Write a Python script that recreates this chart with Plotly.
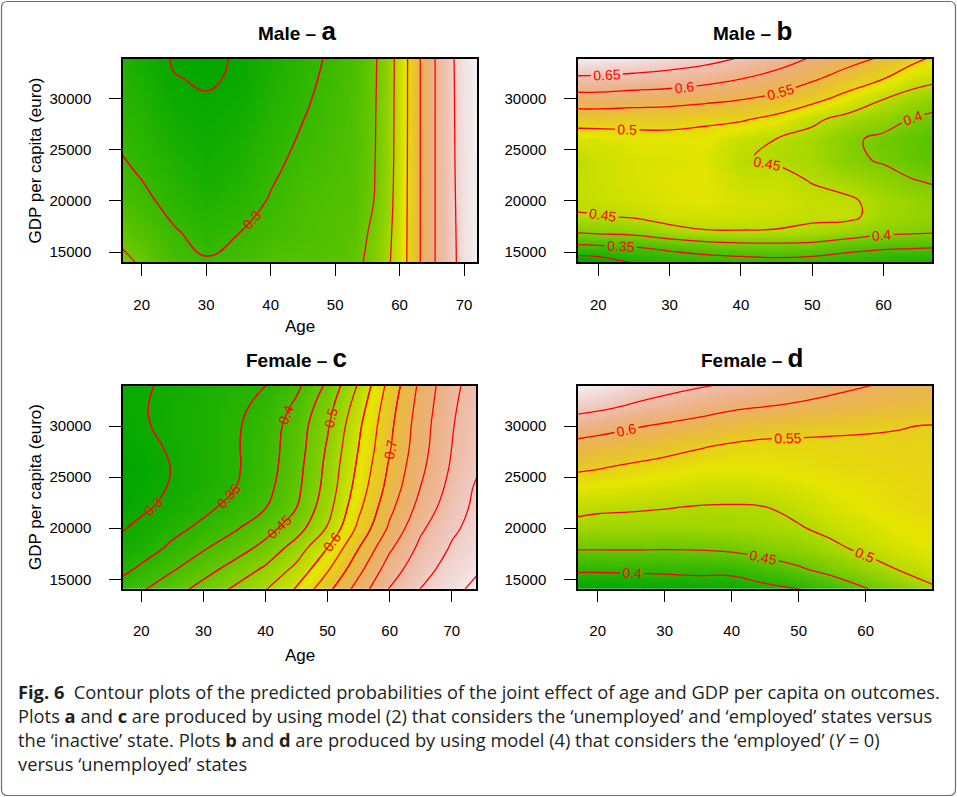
import colorsys
import numpy as np
import plotly.graph_objects as go

# ---------------- data (predicted probabilities) ----------------
# Panel a : Male, model (2)
age_a = [17, 20, 25, 30, 35, 40, 45, 50, 53, 56, 58, 60, 62, 64, 66, 68, 70, 72]
gdp_a = [14000, 17000, 20000, 23000, 26000, 29000, 32000, 34000]
prob_a = [
    [0.420, 0.390, 0.330, 0.305, 0.325, 0.350, 0.355, 0.360, 0.375, 0.430, 0.480, 0.550, 0.640, 0.740, 0.820, 0.880, 0.930, 0.955],
    [0.375, 0.350, 0.305, 0.280, 0.298, 0.325, 0.340, 0.355, 0.365, 0.415, 0.470, 0.547, 0.640, 0.740, 0.820, 0.882, 0.931, 0.956],
    [0.335, 0.315, 0.280, 0.255, 0.270, 0.305, 0.335, 0.350, 0.355, 0.400, 0.460, 0.543, 0.640, 0.740, 0.820, 0.884, 0.932, 0.957],
    [0.310, 0.293, 0.260, 0.235, 0.252, 0.290, 0.320, 0.340, 0.350, 0.395, 0.455, 0.540, 0.640, 0.740, 0.820, 0.886, 0.933, 0.958],
    [0.290, 0.275, 0.240, 0.220, 0.238, 0.276, 0.307, 0.332, 0.347, 0.392, 0.453, 0.538, 0.640, 0.740, 0.820, 0.887, 0.934, 0.959],
    [0.275, 0.260, 0.222, 0.207, 0.222, 0.262, 0.295, 0.325, 0.344, 0.390, 0.452, 0.537, 0.640, 0.740, 0.820, 0.888, 0.934, 0.959],
    [0.262, 0.245, 0.202, 0.195, 0.205, 0.250, 0.285, 0.317, 0.342, 0.387, 0.451, 0.536, 0.640, 0.740, 0.820, 0.889, 0.935, 0.960],
    [0.255, 0.235, 0.195, 0.187, 0.206, 0.243, 0.280, 0.312, 0.340, 0.385, 0.450, 0.535, 0.640, 0.740, 0.820, 0.890, 0.935, 0.960],
]

# Panel b : Male, model (4)
age_b = [17, 20, 25, 30, 35, 40, 45, 50, 55, 60, 64, 67]
gdp_b = [14000, 15500, 17000, 18500, 20000, 22000, 24000, 26000, 28000, 30000, 32000, 34000]
prob_b = [
    [0.270, 0.275, 0.305, 0.318, 0.325, 0.330, 0.335, 0.330, 0.320, 0.312, 0.308, 0.305],
    [0.340, 0.343, 0.350, 0.362, 0.375, 0.383, 0.385, 0.383, 0.368, 0.358, 0.355, 0.353],
    [0.405, 0.410, 0.415, 0.435, 0.447, 0.448, 0.447, 0.440, 0.428, 0.412, 0.408, 0.405],
    [0.447, 0.448, 0.455, 0.468, 0.470, 0.468, 0.465, 0.458, 0.460, 0.433, 0.425, 0.420],
    [0.458, 0.462, 0.470, 0.478, 0.482, 0.474, 0.470, 0.460, 0.457, 0.435, 0.425, 0.418],
    [0.458, 0.465, 0.475, 0.480, 0.483, 0.462, 0.462, 0.448, 0.432, 0.418, 0.402, 0.395],
    [0.455, 0.465, 0.475, 0.478, 0.480, 0.452, 0.446, 0.435, 0.410, 0.395, 0.380, 0.370],
    [0.475, 0.477, 0.482, 0.484, 0.485, 0.462, 0.449, 0.437, 0.408, 0.390, 0.375, 0.365],
    [0.520, 0.520, 0.519, 0.518, 0.508, 0.505, 0.488, 0.458, 0.437, 0.420, 0.398, 0.390],
    [0.580, 0.580, 0.574, 0.570, 0.563, 0.553, 0.538, 0.515, 0.483, 0.451, 0.433, 0.420],
    [0.643, 0.642, 0.637, 0.630, 0.618, 0.602, 0.583, 0.557, 0.530, 0.502, 0.470, 0.462],
    [0.700, 0.697, 0.690, 0.680, 0.668, 0.648, 0.625, 0.597, 0.568, 0.545, 0.515, 0.495],
]

# Panel c : Female, model (2)
age_c = [17, 20, 25, 30, 35, 40, 45, 50, 55, 60, 65, 70, 74]
gdp_c = [14000, 16000, 18000, 20000, 22000, 24000, 26000, 28000, 30000, 32000, 34000]
prob_c = [
    [0.374, 0.395, 0.430, 0.468, 0.508, 0.548, 0.605, 0.687, 0.772, 0.855, 0.902, 0.937, 0.962],
    [0.337, 0.359, 0.395, 0.431, 0.468, 0.508, 0.563, 0.644, 0.735, 0.825, 0.882, 0.919, 0.944],
    [0.310, 0.326, 0.361, 0.396, 0.428, 0.466, 0.524, 0.602, 0.700, 0.793, 0.863, 0.905, 0.925],
    [0.298, 0.311, 0.335, 0.362, 0.394, 0.431, 0.478, 0.554, 0.662, 0.759, 0.842, 0.892, 0.915],
    [0.283, 0.292, 0.314, 0.338, 0.367, 0.399, 0.450, 0.532, 0.639, 0.737, 0.818, 0.879, 0.910],
    [0.274, 0.283, 0.304, 0.326, 0.348, 0.385, 0.438, 0.519, 0.622, 0.719, 0.801, 0.866, 0.906],
    [0.270, 0.275, 0.302, 0.323, 0.343, 0.378, 0.432, 0.513, 0.610, 0.707, 0.789, 0.856, 0.893],
    [0.275, 0.285, 0.307, 0.326, 0.344, 0.377, 0.426, 0.505, 0.600, 0.696, 0.781, 0.850, 0.885],
    [0.285, 0.295, 0.311, 0.327, 0.343, 0.373, 0.423, 0.495, 0.591, 0.689, 0.777, 0.847, 0.880],
    [0.290, 0.297, 0.310, 0.325, 0.339, 0.362, 0.409, 0.481, 0.575, 0.680, 0.770, 0.843, 0.875],
    [0.290, 0.295, 0.307, 0.321, 0.335, 0.349, 0.389, 0.459, 0.555, 0.667, 0.762, 0.838, 0.870],
]

# Panel d : Female, model (4)
age_d = [17, 20, 25, 30, 35, 40, 45, 50, 55, 60, 65, 70]
gdp_d = [14000, 16000, 18000, 20000, 22000, 24000, 26000, 28000, 30000, 32000, 34000]
prob_d = [
    [0.365, 0.365, 0.367, 0.370, 0.374, 0.376, 0.388, 0.398, 0.420, 0.447, 0.470, 0.495],
    [0.407, 0.407, 0.408, 0.410, 0.412, 0.412, 0.428, 0.445, 0.465, 0.483, 0.502, 0.515],
    [0.453, 0.453, 0.453, 0.452, 0.453, 0.458, 0.468, 0.478, 0.492, 0.508, 0.520, 0.530],
    [0.490, 0.488, 0.488, 0.487, 0.487, 0.490, 0.493, 0.497, 0.510, 0.520, 0.530, 0.535],
    [0.508, 0.505, 0.503, 0.501, 0.498, 0.497, 0.499, 0.510, 0.522, 0.530, 0.537, 0.540],
    [0.530, 0.528, 0.524, 0.520, 0.516, 0.515, 0.518, 0.523, 0.530, 0.535, 0.540, 0.542],
    [0.557, 0.553, 0.545, 0.538, 0.532, 0.530, 0.532, 0.535, 0.539, 0.541, 0.543, 0.545],
    [0.585, 0.580, 0.572, 0.563, 0.553, 0.545, 0.541, 0.542, 0.543, 0.544, 0.546, 0.547],
    [0.625, 0.618, 0.605, 0.594, 0.584, 0.574, 0.566, 0.561, 0.557, 0.554, 0.551, 0.549],
    [0.668, 0.662, 0.647, 0.635, 0.622, 0.609, 0.602, 0.595, 0.587, 0.580, 0.574, 0.569],
    [0.695, 0.690, 0.677, 0.665, 0.655, 0.645, 0.635, 0.623, 0.612, 0.602, 0.592, 0.584],
]

titles = [("Male", "a"), ("Male", "b"), ("Female", "c"), ("Female", "d")]
age_ticks_a = [20, 30, 40, 50, 60, 70]
age_ticks_b = [20, 30, 40, 50, 60]
gdp_ticks = [15000, 20000, 25000, 30000]

# ---------------- styling ----------------
W, H = 957, 797


def terrain_scale(n=41):
    """R terrain.colors() as a continuous colorscale."""
    stops = []
    for i in range(n):
        t = i / (n - 1)
        if t <= 0.5:
            u = t / 0.5
            h, s, v = (120 - 60 * u) / 360, 1.0, 0.65 + 0.25 * u
        else:
            u = (t - 0.5) / 0.5
            h, s, v = (60 - 60 * u) / 360, 1.0 - u, 0.90 + 0.05 * u
        r, g, b = colorsys.hsv_to_rgb(h, s, v)
        stops.append([t, f"rgb({round(r*255)},{round(g*255)},{round(b*255)})"])
    return stops


CS = terrain_scale()
RED = "#ff0000"
SANS = "Liberation Sans, Arial, sans-serif"
TICKFONT = dict(family=SANS, size=15, color="black")
LABFONT = dict(family=SANS, size=14, color=RED)


def px2x(px):
    return px / W


def px2y(py):
    return 1 - py / H


panels = [
    dict(x=age_a, y=gdp_a, z=prob_a, ax="", xd=(123, 477), yd=(59, 262), xr=[17.1, 72.0], yr=[14022, 33885],
         xt=age_ticks_a, lev=(0.1, 1.0, 0.1), base_labels=False, labels=[(0.2, 0.3, 0.1)]),
    dict(x=age_b, y=gdp_b, z=prob_b, ax="2", xd=(578, 932), yd=(59, 262), xr=[17.15, 66.8], yr=[14022, 33885],
         xt=age_ticks_b, lev=(0.05, 1.0, 0.05), base_labels=True, labels=[]),
    dict(x=age_c, y=gdp_c, z=prob_c, ax="3", xd=(123, 476), yd=(386, 588.7), xr=[17.05, 73.9], yr=[14080, 33914],
         xt=age_ticks_a, lev=(0.05, 1.0, 0.05), base_labels=False, labels=[(0.3, 0.5, 0.05), (0.6, 0.7, 0.1)]),
    dict(x=age_d, y=gdp_d, z=prob_d, ax="4", xd=(578, 932), yd=(386, 588.7), xr=[17.06, 69.9], yr=[14080, 33914],
         xt=age_ticks_b, lev=(0.05, 1.0, 0.05), base_labels=True, labels=[]),
]

fig = go.Figure()
layout = dict(width=W, height=H, margin=dict(l=0, r=0, t=0, b=0),
              paper_bgcolor="white", plot_bgcolor="white", showlegend=False)
annotations = []

for i, p in enumerate(panels):
    xa, ya = "x" + p["ax"], "y" + p["ax"]
    z = np.array(p["z"])
    fig.add_trace(go.Contour(
        x=p["x"], y=p["y"], z=z, xaxis=xa, yaxis=ya,
        colorscale=CS, zmin=float(z.min()), zmax=float(z.max()), showscale=False,
        contours=dict(start=p["lev"][0], end=p["lev"][1], size=p["lev"][2],
                      coloring="heatmap", showlines=True, showlabels=p["base_labels"],
                      labelfont=LABFONT, labelformat=".2~f"),
        line=dict(color=RED, width=1.3, smoothing=1.3), hoverinfo="skip"))
    for (s, e, st) in p["labels"]:
        fig.add_trace(go.Contour(
            x=p["x"], y=p["y"], z=z, xaxis=xa, yaxis=ya, showscale=False,
            contours=dict(start=s, end=e, size=st, coloring="none", showlines=True,
                          showlabels=True, labelfont=LABFONT, labelformat=".2~f"),
            line=dict(color=RED, width=1.3, smoothing=1.3), hoverinfo="skip"))

    axcommon = dict(showgrid=False, zeroline=False, showline=True, mirror=True,
                    linecolor="black", linewidth=1.5, ticks="outside", ticklen=12,
                    tickwidth=1.3, tickcolor="black", tickfont=TICKFONT)
    layout["xaxis" + p["ax"]] = dict(axcommon, domain=[px2x(p["xd"][0]), px2x(p["xd"][1])],
                                    range=p["xr"], tickvals=p["xt"], anchor=ya,
                                    ticklabelstandoff=16)
    layout["yaxis" + p["ax"]] = dict(axcommon, domain=[px2y(p["yd"][1]), px2y(p["yd"][0])],
                                    range=p["yr"], tickvals=gdp_ticks, tickformat="d",
                                    anchor=xa, ticklabelstandoff=15)

    cx = (p["xd"][0] + p["xd"][1]) / 2
    ty = 31 if i < 2 else 358
    sex, letter = titles[i]
    annotations.append(dict(
        xref="paper", yref="paper", x=px2x(cx - 3), y=px2y(ty), xanchor="center", yanchor="middle",
        showarrow=False,
        text=f"<b>{sex} – </b><b><span style='font-size:26px'>{letter}</span></b>",
        font=dict(family=SANS, size=19, color="black")))

# axis titles (left column only)
for ty in (326, 655):
    annotations.append(dict(xref="paper", yref="paper", x=px2x(300), y=px2y(ty), showarrow=False,
                            xanchor="center", yanchor="middle", text="Age",
                            font=dict(family=SANS, size=17, color="black")))
for cy in (160.5, 487):
    annotations.append(dict(xref="paper", yref="paper", x=px2x(35), y=px2y(cy), showarrow=False,
                            xanchor="center", yanchor="middle", textangle=-90,
                            text="GDP per capita (euro)",
                            font=dict(family=SANS, size=17, color="black")))

# caption
caption = [
    "<b>Fig. 6</b>  Contour plots of the predicted probabilities of the joint effect of age and GDP per capita on outcomes.",
    "Plots <b>a</b> and <b>c</b> are produced by using model (2) that considers the ‘unemployed’ and ‘employed’ states versus",
    "the ‘inactive’ state. Plots <b>b</b> and <b>d</b> are produced by using model (4) that considers the ‘employed’ (<i>Y</i> = 0)",
    "versus ‘unemployed’ states",
]
for k, line in enumerate(caption):
    annotations.append(dict(xref="paper", yref="paper", x=px2x(16), y=px2y(691 + 24 * k),
                            xanchor="left", yanchor="middle", showarrow=False, text=line,
                            font=dict(family="Open Sans, Noto Sans, sans-serif", size=18.3,
                                      color="#231f20")))

layout["annotations"] = annotations

# rounded outer frame
x0, x1, y0, y1 = px2x(1.5), px2x(955.5), px2y(795.5), px2y(1.5)
rx, ry = 6 / W, 6 / H
path = (f"M {x0+rx},{y1} L {x1-rx},{y1} Q {x1},{y1} {x1},{y1-ry} L {x1},{y0+ry} "
        f"Q {x1},{y0} {x1-rx},{y0} L {x0+rx},{y0} Q {x0},{y0} {x0},{y0+ry} "
        f"L {x0},{y1-ry} Q {x0},{y1} {x0+rx},{y1} Z")
layout["shapes"] = [dict(type="path", xref="paper", yref="paper", path=path,
                         line=dict(color="#6d6e71", width=1.2), layer="below")]

fig.update_layout(**layout)
fig.write_html("out.html", config={"displayModeBar": False},
               post_script="document.body.style.margin='0';document.body.style.padding='0';"
                           "document.body.style.overflow='hidden';")
